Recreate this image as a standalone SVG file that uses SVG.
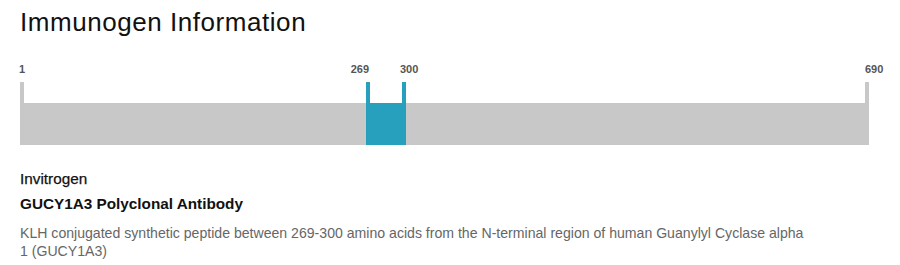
<svg xmlns="http://www.w3.org/2000/svg" width="900" height="265" viewBox="0 0 900 265">
<style>
.t{font-family:"Liberation Sans",Arial,sans-serif}
.title{font-size:26px;fill:#111;letter-spacing:0.55px}
.num{font-size:11px;font-weight:bold;fill:#555}
.bar{fill:#c8c8c8}
.hl{fill:#26a0bc}
.h1{font-size:15.3px;font-weight:bold;fill:#111}
.h0{font-size:15.3px;fill:#111;stroke:#111;stroke-width:0.25px}
.desc{font-size:14.1px;fill:#666}
</style>
<rect width="900" height="265" fill="#fff"/>
<text id="title" class="t title" x="20" y="31">Immunogen Information</text>
<g id="track">
<rect class="bar" x="20" y="103" width="849" height="42"/>
<rect class="bar" x="20" y="82" width="4" height="21"/>
<rect class="bar" x="865" y="82" width="4" height="21"/>
</g>
<g id="region">
<rect class="hl" x="366" y="103" width="40" height="42"/>
<rect class="hl" x="366" y="82" width="4" height="21"/>
<rect class="hl" x="402" y="82" width="4" height="21"/>
</g>
<g id="labels">
<text class="t num" x="19" y="73">1</text>
<text class="t num" x="369" y="73" text-anchor="end">269</text>
<text class="t num" x="400" y="73">300</text>
<text class="t num" x="865" y="73">690</text>
</g>
<g id="info">
<text class="t h0" x="20" y="184">Invitrogen</text>
<text class="t h1" x="20" y="209">GUCY1A3 Polyclonal Antibody</text>
<text class="t desc" x="20" y="238">KLH conjugated synthetic peptide between 269-300 amino acids from the N-terminal region of human Guanylyl Cyclase alpha</text>
<text class="t desc" x="20" y="256">1 (GUCY1A3)</text>
</g>
</svg>
